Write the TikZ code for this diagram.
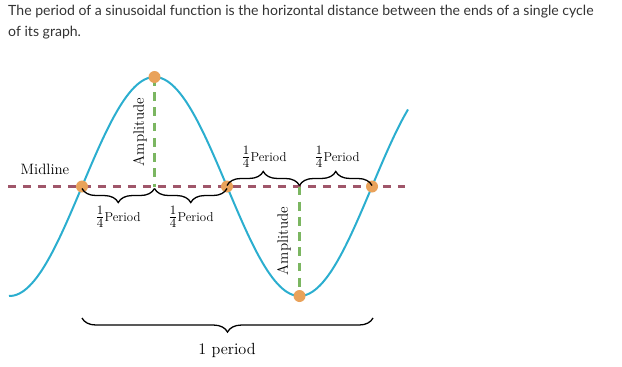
\documentclass[tikz,border=0pt]{standalone}
\usepackage{fontspec}
\newfontfamily\titlefont{Lato}
\usetikzlibrary{decorations.pathreplacing, calc}

\definecolor{curveblue}{HTML}{2BAECF}
\definecolor{midmaroon}{HTML}{A0566A}
\definecolor{ampgreen}{HTML}{7BB661}
\definecolor{dotorange}{HTML}{E9A25A}
\definecolor{titlegray}{HTML}{333333}

\newcommand{\quarterfrac}{{\fontsize{15}{15}\selectfont$\frac{1}{4}$}}

\begin{document}
\begin{tikzpicture}[
    x=0.03cm, y=-0.03cm,
    font=\fontsize{12.8}{15}\selectfont,
    dot/.style={circle, fill=dotorange, inner sep=0pt, minimum size=0.36cm},
    midline/.style={midmaroon, line width=2.4pt, dash pattern=on 6.8pt off 6pt},
    ampline/.style={ampgreen, line width=2.4pt, dash pattern=on 7.5pt off 5.5pt},
    sine/.style={curveblue, line width=1.7pt},
    brace/.style={decorate, decoration={brace, amplitude=12pt}, line width=1.1pt},
    mbrace/.style={decorate, decoration={brace, mirror, amplitude=12pt}, line width=1.1pt},
    quarter/.style={font=\fontsize{11}{13}\selectfont, inner sep=1pt}
]
\useasboundingbox (0,0) rectangle (622,366);

% ---- Caption ----
\node[anchor=north west, align=left, inner sep=0pt, text=titlegray,
      font=\titlefont\fontsize{12}{17.5}\selectfont] (caption) at (8,5)
  {The period of a sinusoidal function is the horizontal distance between the ends of a single cycle\\ of its graph.};

% ---- Key points ----
\coordinate (c1) at (82,186.5);
\coordinate (c2) at (227,186.5);
\coordinate (c3) at (372,186.5);
\coordinate (peak) at (154.5,77);
\coordinate (trough) at (299.5,296);
\coordinate (foot1) at (peak |- c1);
\coordinate (foot2) at (trough |- c1);
\coordinate (mlstart) at (8,186.5);
\coordinate (mlend) at (405,186.5);

% ---- Midline and amplitudes ----
\draw[midline] (mlstart) -- (mlend);
\draw[ampline] (peak) -- (foot1);
\draw[ampline] (foot2) -- (trough);

% ---- Sine curve ----
\draw[sine] plot[domain=9:408, samples=160, smooth] (\x, {186.5-109.5*sin(1.241379*(\x-82))});

% ---- Dots ----
\node[dot] (d1) at (c1) {};
\node[dot] (d2) at (c2) {};
\node[dot] (d3) at (c3) {};
\node[dot] (dpeak) at (peak) {};
\node[dot] (dtrough) at (trough) {};

% ---- Braces ----
\draw[mbrace] ($(c1)+(0,2)$) -- ($(foot1)+(0,2)$);
\draw[mbrace] ($(foot1)+(0,2)$) -- ($(c2)+(0,2)$);
\draw[brace] ($(c2)+(0,-1)$) -- ($(foot2)+(0,-1)$);
\draw[brace] ($(foot2)+(0,-1)$) -- ($(c3)+(0,-1)$);
\coordinate (bigleft) at (82,318);
\coordinate (bigright) at (373,318);
\draw[mbrace] (bigleft) -- (bigright);

% ---- Labels ----
\node (midlabel) at (45,169) {Midline};
\node[rotate=90] (amp1) at (140,132) {Amplitude};
\node[rotate=90] (amp2) at (284,241) {Amplitude};
\node[quarter] (q1) at (118,217) {\quarterfrac Period};
\node[quarter] (q2) at (191,217) {\quarterfrac Period};
\node[quarter] (q3) at (264,157) {\quarterfrac Period};
\node[quarter] (q4) at (337,157) {\quarterfrac Period};
\node[font=\fontsize{13.8}{16}\selectfont] (period) at (227,350) {1 period};

\end{tikzpicture}
\end{document}
